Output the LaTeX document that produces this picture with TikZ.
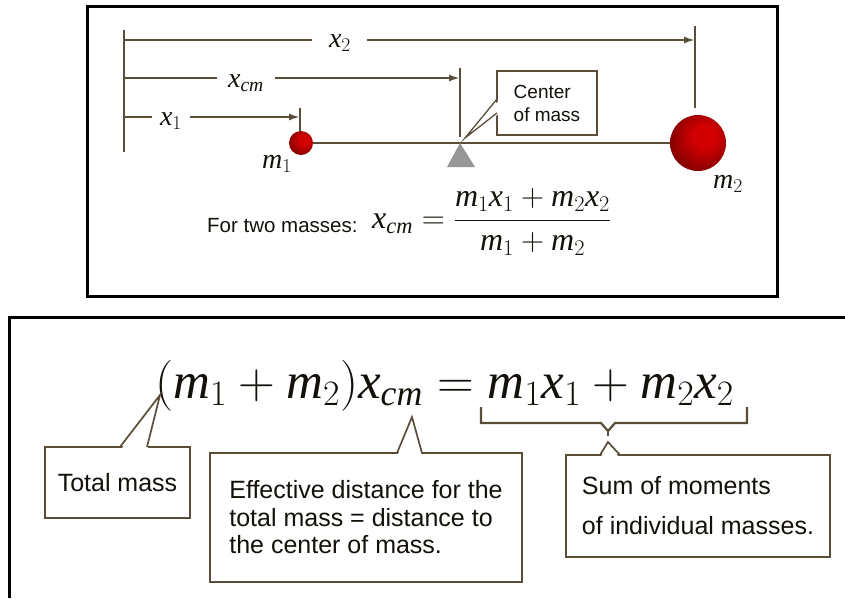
\RequirePackage{fix-cm}
\documentclass[tikz,border=0pt]{standalone}
\usepackage{fontspec}
\setmainfont{Liberation Serif}
\newfontfamily\lsans{Liberation Sans}
\usetikzlibrary{arrows.meta,calc,backgrounds}
\definecolor{linecol}{RGB}{90,78,58}
\definecolor{txtcol}{RGB}{20,17,10}
\definecolor{ballhi}{RGB}{210,0,0}
\definecolor{ballmid}{RGB}{140,0,0}
\definecolor{balllo}{RGB}{55,0,0}
\definecolor{pivotcol}{RGB}{150,150,150}
\pgfdeclareradialshading{redball}{\pgfpoint{8bp}{8bp}}{color(0bp)=(ballhi); color(10bp)=(ballhi); color(28bp)=(ballmid); color(42bp)=(balllo); color(50bp)=(balllo)}
\newcommand\vm{\mathit{m}}
\newcommand\vx{\mathit{x}}
\begin{document}
\begin{tikzpicture}[x=1pt,y=-1pt,
  dimline/.style={draw=linecol,line width=2pt},
  dimarrow/.style={dimline,-{Latex[length=11pt,width=7pt]}},
  tickline/.style={draw=linecol,line width=2pt},
  mlab/.style={text=txtcol,font=\fontsize{28}{30}\selectfont,inner sep=0pt},
  callbox/.style={draw=linecol,line width=2.6pt,fill=white,text=txtcol,inner sep=0pt},
  wedgeline/.style={draw=linecol,line width=1.7pt},
  frameline/.style={draw=black,line width=3pt},
  ball/.style={circle,inner sep=0pt,shading=redball}
]
\useasboundingbox (0,0) rectangle (845,598);
\begin{scope}[on background layer]
\fill[white] (0,0) rectangle (845,598);
\end{scope}

% ---------- top panel ----------
\draw[frameline] (87,6) rectangle (777,296);

% left tick
\coordinate (lt1) at (124,30);
\coordinate (lt2) at (124,152);
\draw[tickline] (lt1) -- (lt2);

% x2 dimension
\coordinate (a2) at (124,40);
\coordinate (g2l) at (312,40);
\coordinate (g2r) at (367,40);
\coordinate (b2) at (695,40);
\node[mlab,anchor=base] (lx2) at (340,47) {$\vx_2$};
\draw[dimline] (a2) -- (g2l);
\draw[dimarrow] (g2r) -- (b2);
\coordinate (rt1) at (695,26);
\coordinate (rt2) at (695,108);
\draw[tickline] (rt1) -- (rt2);

% xcm dimension
\coordinate (acm) at (124,78);
\coordinate (gcml) at (217,78);
\coordinate (gcmr) at (275,78);
\coordinate (bcm) at (460,78);
\node[mlab,anchor=base] (lxcm) at (246,87) {$\vx_{\mathit{cm}}$};
\draw[dimline] (acm) -- (gcml);
\draw[dimarrow] (gcmr) -- (bcm);
\coordinate (ct1) at (460,68);
\coordinate (ct2) at (460,137);
\draw[tickline] (ct1) -- (ct2);

% x1 dimension
\coordinate (a1) at (124,117);
\coordinate (g1l) at (152,117);
\coordinate (g1r) at (190,117);
\coordinate (b1) at (300,117);
\node[mlab,anchor=base] (lx1) at (171,125) {$\vx_1$};
\draw[dimline] (a1) -- (g1l);
\draw[dimarrow] (g1r) -- (b1);
\coordinate (mt1) at (300,108);
\coordinate (mt2) at (300,132);
\draw[tickline] (mt1) -- (mt2);

% beam, balls, pivot
\node[ball,minimum size=24pt] (m1ball) at (301,143) {};
\node[ball,minimum size=56pt] (m2ball) at (698,143) {};
\begin{scope}[on background layer]
\draw[dimline] (m1ball) -- (m2ball);
\end{scope}
\coordinate (pv1) at (447,167);
\coordinate (pv2) at (460,143);
\coordinate (pv3) at (475,167);
\fill[pivotcol] (pv1) -- (pv2) -- (pv3) -- cycle;

\node[mlab,anchor=base] (lm1) at (277,168) {$\vm_1$};
\node[mlab,anchor=base] (lm2) at (728,188) {$\vm_2$};

% center of mass callout
\node[callbox,line width=2.2pt,minimum width=100pt,minimum height=64pt,align=left,
      font=\lsans\fontsize{19}{23}\selectfont] (cbox) at (547,103) {Center\\of mass};
\coordinate (cw1) at (497,99);
\coordinate (cw2) at (497,113);
\coordinate (capex) at (465,138);
\fill[white] ($(cw1)+(3,0)$) -- (capex) -- ($(cw2)+(3,0)$) -- cycle;
\draw[wedgeline,line width=1.3pt] (cw1) -- (capex) -- (cw2);

% formula
\node[text=txtcol,font=\lsans\fontsize{20.5}{24}\selectfont,anchor=base west,inner sep=0pt] (ftwo) at (207,232) {For two masses:};
\node[text=txtcol,font=\fontsize{32}{34}\selectfont,anchor=west,inner sep=0pt] (feq) at (372,222)
  {$\vx_{\mathit{cm}} = \displaystyle\frac{\vm_1\vx_1+\vm_2\vx_2}{\vm_1+\vm_2}$};

% ---------- bottom panel ----------
\coordinate (bf1) at (9,598);
\coordinate (bf2) at (9,317);
\coordinate (bf3) at (845,317);
\draw[frameline] (bf1) -- (bf2) -- (bf3);

\node[text=txtcol,font=\fontsize{51}{60}\selectfont,anchor=base west,inner sep=0pt] (bigeq) at (155,398)
  {$(\vm_1+\vm_2)\vx_{\mathit{cm}}=\vm_1\vx_1+\vm_2\vx_2$};

% brace
\coordinate (br1) at (481,407);
\coordinate (br2) at (481,423);
\coordinate (br3) at (601,423);
\coordinate (br4) at (608,431);
\coordinate (br5) at (615,423);
\coordinate (br6) at (747,423);
\coordinate (br7) at (747,407);
\coordinate (br8) at (608,436);
\draw[dimline,line width=2.2pt] (br1) -- (br2) -- (br3) -- (br4) -- (br5) -- (br6) -- (br7);
\draw[dimline,line width=2.2pt] (br4) -- (br8);

% total mass callout
\node[callbox,minimum width=145pt,minimum height=71pt,
      font=\lsans\fontsize{25}{28}\selectfont] (tbox) at (117.5,482.5) {Total mass};
\coordinate (tw1) at (120,447);
\coordinate (tw2) at (147,447);
\coordinate (tapex) at (160,395);
\fill[white] ($(tw1)+(0,4)$) -- (tapex) -- ($(tw2)+(0,4)$) -- cycle;
\draw[wedgeline] (tw1) -- (tapex) -- (tw2);

% effective distance callout
\node[callbox,minimum width=312pt,minimum height=129pt,align=left,
      font=\lsans\fontsize{25}{27.5}\selectfont] (ebox) at (366,517.5)
  {Effective distance for the\\total mass = distance to\\the center of mass.};
\coordinate (ew1) at (397,453);
\coordinate (ew2) at (422,453);
\coordinate (eapex) at (412,417);
\fill[white] ($(ew1)+(0,4)$) -- (eapex) -- ($(ew2)+(0,4)$) -- cycle;
\draw[wedgeline] (ew1) -- (eapex) -- (ew2);

% sum of moments callout
\node[callbox,minimum width=264pt,minimum height=102pt,align=left,
      font=\lsans\fontsize{25}{40}\selectfont] (sbox) at (698,506)
  {Sum of moments\\of individual masses.};
\coordinate (sw1) at (600,455);
\coordinate (sw2) at (620,455);
\coordinate (sapex) at (608,442);
\fill[white] ($(sw1)+(0,4)$) -- (sapex) -- ($(sw2)+(0,4)$) -- cycle;
\draw[wedgeline] (sw1) -- (sapex) -- (sw2);
\end{tikzpicture}
\end{document}
